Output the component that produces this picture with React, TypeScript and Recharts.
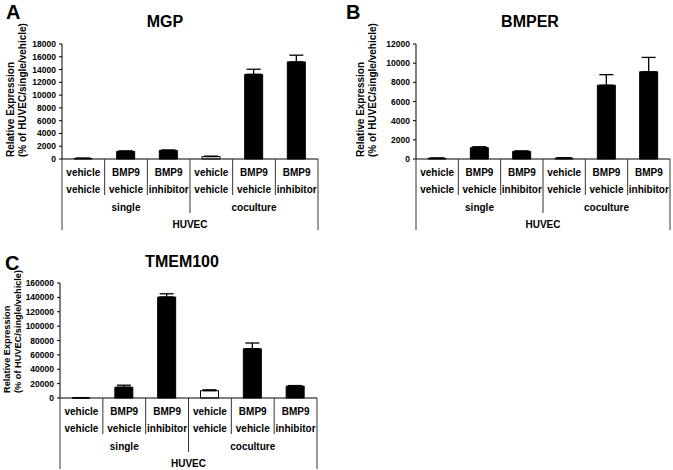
import React from 'react';
import { BarChart, Bar, XAxis, YAxis, Cell, ErrorBar } from 'recharts';

const treatmentTop = ['vehicle', 'BMP9', 'BMP9', 'vehicle', 'BMP9', 'BMP9'];
const treatmentBottom = ['vehicle', 'vehicle', 'inhibitor', 'vehicle', 'vehicle', 'inhibitor'];
const cultureGroups = ['single', 'coculture'];
const cellType = 'HUVEC';

const mgpMean = [100, 1200, 1350, 380, 13250, 15200];
const mgpErr = [20, 60, 50, 60, 800, 1050];
const mgpTicks = [0, 2000, 4000, 6000, 8000, 10000, 12000, 14000, 16000, 18000];

const bmperMean = [80, 1180, 800, 100, 7700, 9100];
const bmperErr = [15, 100, 40, 20, 1100, 1500];
const bmperTicks = [0, 2000, 4000, 6000, 8000, 10000, 12000];

const tmemMean = [300, 15000, 140500, 10200, 68500, 16500];
const tmemErr = [100, 2800, 4500, 1200, 8000, 800];
const tmemTicks = [0, 20000, 40000, 60000, 80000, 100000, 120000, 140000, 160000];

const FONT = '"Liberation Sans", Arial, sans-serif';
const LINE = '#333';
const perGroup = treatmentTop.length / cultureGroups.length;

/* linhas da tabela sob o eixo x, desenhadas a partir da posição de cada tick */
function makeTick(bw: number) {
  return (props: any) => {
    const { x, y } = props;
    const i: number = props.index ?? props.payload?.index ?? 0;
    const left = x - bw / 2;
    const right = x + bw / 2;
    const txt = { fontFamily: FONT, fontWeight: 700, fontSize: 10, fill: '#000', textAnchor: 'middle' as const, dominantBaseline: 'central' as const };
    const n = treatmentTop.length;
    const isGroupStart = i % perGroup === 0;
    const isGroupMid = i % perGroup === Math.floor(perGroup / 2);
    return (
      <g>
        <text x={x} y={y + 13} {...txt}>{treatmentTop[i]}</text>
        <text x={x} y={y + 30} {...txt}>{treatmentBottom[i]}</text>
        {i === 0 && <line x1={left} x2={left} y1={y} y2={y + 71} stroke={LINE} />}
        {i > 0 && isGroupStart && <line x1={left} x2={left} y1={y} y2={y + 54} stroke={LINE} />}
        {i > 0 && !isGroupStart && <line x1={left} x2={left} y1={y} y2={y + 36} stroke={LINE} />}
        {i === n - 1 && <line x1={right} x2={right} y1={y} y2={y + 71} stroke={LINE} />}
        {isGroupMid && <text x={x} y={y + 48} {...txt}>{cultureGroups[Math.floor(i / perGroup)]}</text>}
        {i === n / 2 - 1 && <text x={right} y={y + 65} {...txt}>{cellType}</text>}
      </g>
    );
  };
}

type PanelProps = {
  letter: string;
  title: string;
  mean: number[];
  err: number[];
  ticks: number[];
  left: number;
  top: number;
  width: number;
  height: number;
  margin: { top: number; right: number; bottom: number; left: number };
  letterPos: [number, number];
  titlePos: [number, number];
  labelX: [number, number];
  labelBottom: number;
  labelSize: number;
};

function Panel(p: PanelProps) {
  const data = p.mean.map((m, i) => ({
    name: treatmentTop[i] + ' ' + treatmentBottom[i] + ' ' + i,
    value: m,
    err: [0, p.err[i]],
  }));
  const yAxisWidth = 40;
  const plotW = p.width - p.margin.left - p.margin.right - yAxisWidth;
  const bw = plotW / data.length;
  const isOpen = (i: number) =>
    treatmentTop[i] === 'vehicle' && cultureGroups[Math.floor(i / perGroup)] === 'coculture';
  const lbl = { fontFamily: FONT, fontWeight: 700, fontSize: p.labelSize, fill: '#000' };

  return (
    <div style={{ position: 'absolute', left: p.left, top: p.top, width: p.width, height: p.height }}>
      <div style={{ position: 'absolute', left: p.letterPos[0], top: p.letterPos[1], font: `700 20px ${FONT}`, lineHeight: '20px' }}>{p.letter}</div>
      <div style={{ position: 'absolute', left: p.titlePos[0], top: p.titlePos[1], transform: 'translate(-50%, -50%)', font: `700 16px ${FONT}`, whiteSpace: 'nowrap' }}>{p.title}</div>
      <BarChart width={p.width} height={p.height} data={data} margin={p.margin} style={{ position: 'absolute', left: 0, top: 0, overflow: 'visible' }}>
        <XAxis
          dataKey="name"
          height={72}
          interval={0}
          tickSize={0}
          tickMargin={0}
          tickLine={false}
          axisLine={{ stroke: '#000' }}
          tick={makeTick(bw)}
        />
        <YAxis
          width={yAxisWidth}
          domain={[0, p.ticks[p.ticks.length - 1]]}
          ticks={p.ticks}
          interval={0}
          tickSize={3}
          tickMargin={3}
          axisLine={{ stroke: '#000' }}
          tickLine={{ stroke: '#000' }}
          tick={{ fontFamily: FONT, fontWeight: 700, fontSize: 8.5, fill: '#000' }}
          label={{
            content: () => (
              <g>
                <text transform={`translate(${p.labelX[0]},${p.labelBottom}) rotate(-90)`} textAnchor="start" dominantBaseline="central" {...lbl}>Relative Expression</text>
                <text transform={`translate(${p.labelX[1]},${p.labelBottom}) rotate(-90)`} textAnchor="start" dominantBaseline="central" {...lbl}>(% of HUVEC/single/vehicle)</text>
              </g>
            ),
          }}
        />
        <Bar dataKey="value" barSize={18} stroke="#000" strokeWidth={1} isAnimationActive={false}>
          {data.map((_, i) => (
            <Cell key={i} fill={isOpen(i) ? '#fff' : '#000'} />
          ))}
          <ErrorBar dataKey="err" direction="y" width={7} stroke="#000" strokeWidth={1.3} isAnimationActive={false} />
        </Bar>
      </BarChart>
    </div>
  );
}

export default function App() {
  return (
    <div style={{ position: 'absolute', left: 0, top: 0, width: 673, height: 470, background: '#fff', overflow: 'hidden' }}>
      <Panel
        letter="A" title="MGP" mean={mgpMean} err={mgpErr} ticks={mgpTicks}
        left={0} top={0} width={340} height={240}
        margin={{ top: 44, right: 22, bottom: 9, left: 22 }}
        letterPos={[6, 2]} titlePos={[165, 22]} labelX={[10, 22]} labelBottom={157} labelSize={10}
      />
      <Panel
        letter="B" title="BMPER" mean={bmperMean} err={bmperErr} ticks={bmperTicks}
        left={340} top={0} width={333} height={240}
        margin={{ top: 44, right: 3, bottom: 9, left: 36 }}
        letterPos={[6, 2]} titlePos={[190, 22]} labelX={[20, 32]} labelBottom={157} labelSize={10}
      />
      <Panel
        letter="C" title="TMEM100" mean={tmemMean} err={tmemErr} ticks={tmemTicks}
        left={0} top={230} width={340} height={240}
        margin={{ top: 53, right: 23, bottom: 0, left: 20 }}
        letterPos={[5, 23]} titlePos={[182, 32]} labelX={[7, 18]} labelBottom={163} labelSize={9.2}
      />
    </div>
  );
}
